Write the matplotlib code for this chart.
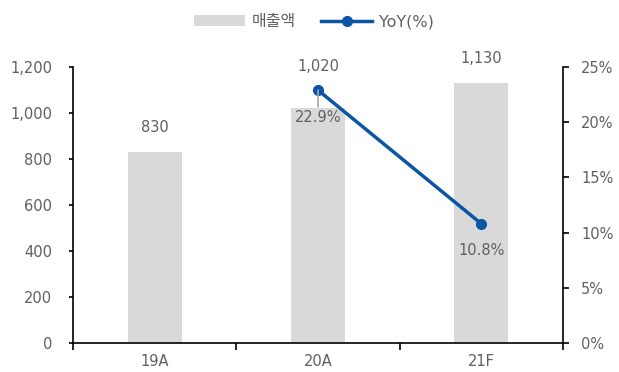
import numpy as np
import matplotlib.pyplot as plt
from matplotlib.ticker import FuncFormatter, FixedLocator

plt.rcParams['font.family'] = ['DejaVu Sans', 'Noto Sans CJK KR']

years = ['19A', '20A', '21F']
sales = [830, 1020, 1130]
yoy_years = ['20A', '21F']
yoy = [22.9, 10.8]

text_color = '#606060'
bar_color = '#d9d9d9'
line_color = '#0a56a5'

fig = plt.figure(figsize=(6.19, 3.72), dpi=100)
ax = fig.add_axes([0.118, 0.078, 0.7915, 0.742])
ax2 = ax.twinx()

x = np.arange(len(years))
bars = ax.bar(x, sales, width=0.33, color=bar_color, label='매출액', zorder=1)

xi = [years.index(y) for y in yoy_years]
line, = ax2.plot(xi, yoy, color=line_color, lw=2.5, marker='o', ms=7,
                 label='YoY(%)', zorder=3)

ax.set_xlim(-0.5, 2.5)
ax.set_ylim(0, 1200)
ax2.set_ylim(0, 25)

ax.set_yticks(np.arange(0, 1201, 200))
ax.yaxis.set_major_formatter(FuncFormatter(lambda v, p: f'{int(v):,}'))
ax2.set_yticks(np.arange(0, 26, 5))
ax2.yaxis.set_major_formatter(FuncFormatter(lambda v, p: f'{int(v)}%'))

ax.set_xticks(x)
ax.set_xticklabels(years)
ax.xaxis.set_minor_locator(FixedLocator([-0.5, 0.5, 1.5, 2.5]))
ax.tick_params(axis='x', which='major', length=0, pad=8, labelsize=10.5, labelcolor=text_color)
ax.tick_params(axis='x', which='minor', length=5, width=1.2, direction='out')
ax.tick_params(axis='y', length=3, width=1.2, direction='out', pad=12,
               labelsize=10.5, labelcolor=text_color)
ax2.tick_params(axis='y', length=4, width=1.2, direction='out', pad=9,
                labelsize=10.5, labelcolor=text_color)

for a in (ax, ax2):
    a.spines['top'].set_visible(False)
    for s in ('left', 'right', 'bottom'):
        a.spines[s].set_linewidth(1.2)
ax.spines['right'].set_visible(False)
ax2.spines['left'].set_visible(False)
ax2.spines['bottom'].set_visible(False)

# sales labels above the bars (20A label lifted above the marker)
offsets = {'19A': 12, '20A': 25, '21F': 12}
for i, v in enumerate(sales):
    ax.annotate(f'{v:,}', (x[i], v), xytext=(0, offsets[years[i]]),
                textcoords='offset points', ha='center', va='bottom',
                fontsize=10.5, color=text_color)

# growth labels below the markers
ax2.annotate(f'{yoy[0]}%', (xi[0], yoy[0]), xytext=(0, -14),
             textcoords='offset points', ha='center', va='top',
             fontsize=10.5, color=text_color,
             arrowprops=dict(arrowstyle='-', color='#a6a6a6', lw=1.2,
                             shrinkA=0, shrinkB=0))
ax2.annotate(f'{yoy[1]}%', (xi[1], yoy[1]), xytext=(0, -14),
             textcoords='offset points', ha='center', va='top',
             fontsize=10.5, color=text_color)

fig.legend([bars, line], ['매출액', 'YoY(%)'], loc='upper center',
           bbox_to_anchor=(0.507, 1.0), ncol=2, frameon=False,
           fontsize=11.5, labelcolor=text_color, handlelength=3.2,
           columnspacing=1.6, handletextpad=0.4)

fig.savefig('out.png', dpi=100)
